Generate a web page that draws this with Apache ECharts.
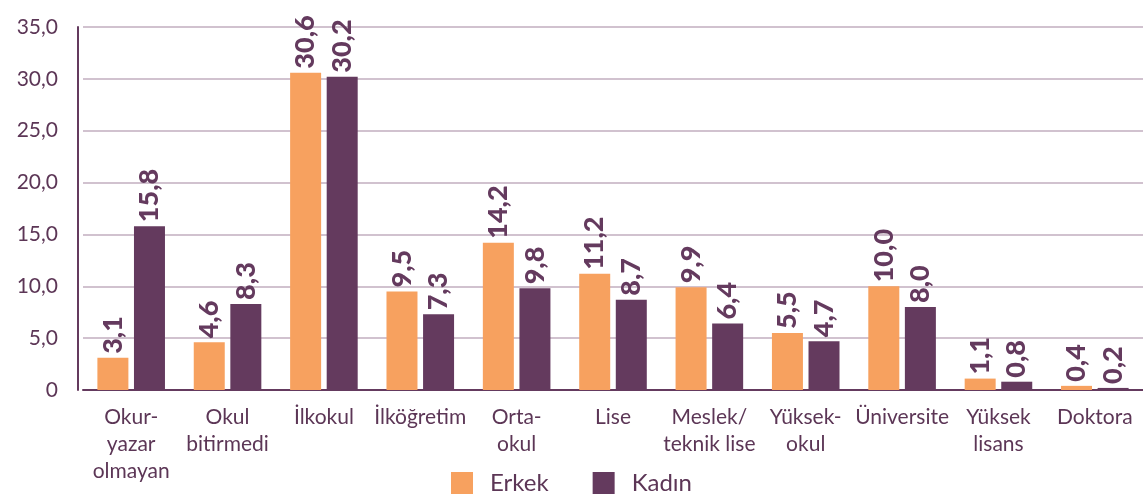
<!DOCTYPE html>
<html>
<head>
<meta charset="utf-8">
<script src="https://cdn.jsdelivr.net/npm/echarts@6/dist/echarts.min.js"></script>
<style>
  html, body { margin: 0; padding: 0; background: #fff; }
  #chart { width: 1143px; height: 503px; }
</style>
</head>
<body>
<div id="chart"></div>
<script>
var categories = [
  'Okur-\nyazar\nolmayan', 'Okul\nbitirmedi', 'İlkokul', 'İlköğretim', 'Orta-\nokul',
  'Lise', 'Meslek/\nteknik lise', 'Yüksek-\nokul', 'Üniversite', 'Yüksek\nlisans', 'Doktora'
];
var erkek = [3.1, 4.6, 30.6, 9.5, 14.2, 11.2, 9.9, 5.5, 10.0, 1.1, 0.4];
var kadin = [15.8, 8.3, 30.2, 7.3, 9.8, 8.7, 6.4, 4.7, 8.0, 0.8, 0.2];
var seriesNames = ['Erkek', 'Kadın'];

var textColor = '#5c3656';
var font = 'Lato';

var chart = echarts.init(document.getElementById('chart'));

function fmt(v) {
  return v.toFixed(1).replace('.', ',');
}

var labelOpt = {
  show: true,
  position: 'top',
  rotate: 90,
  align: 'left',
  verticalAlign: 'middle',
  distance: 4,
  color: '#643a5e',
  fontFamily: font,
  fontWeight: 900,
  fontSize: 27,
  formatter: function (p) { return fmt(p.value); }
};

var option = {
  backgroundColor: '#fff',
  animation: false,
  grid: {
    left: 83,
    right: 0,
    top: 27,
    bottom: 113
  },
  legend: {
    bottom: 3,
    left: 'center',
    itemWidth: 22,
    itemHeight: 22,
    itemGap: 44,
    icon: 'rect',
    textStyle: { color: textColor, fontFamily: font, fontSize: 24, padding: [0, 0, 0, 12] },
    data: seriesNames
  },
  xAxis: {
    type: 'category',
    data: categories,
    axisLine: { show: true, lineStyle: { color: '#643a5e', width: 2 } },
    axisTick: { show: false },
    axisLabel: {
      interval: 0,
      margin: 14,
      color: textColor,
      fontFamily: font,
      fontSize: 21,
      lineHeight: 27
    }
  },
  yAxis: {
    type: 'value',
    min: 0,
    max: 35,
    interval: 5,
    offset: 5,
    axisLine: { show: true, lineStyle: { color: '#643a5e', width: 2 } },
    axisTick: { show: false },
    splitLine: { show: true, lineStyle: { color: '#c2aebf', width: 1.5 } },
    axisLabel: {
      margin: 20,
      color: textColor,
      fontFamily: font,
      fontSize: 21,
      formatter: function (v) { return v === 0 ? '0' : fmt(v); }
    }
  },
  series: [
    {
      name: seriesNames[0],
      type: 'bar',
      data: erkek,
      barWidth: 31,
      barGap: '18%',
      itemStyle: { color: '#f7a15f' },
      label: labelOpt
    },
    {
      name: seriesNames[1],
      type: 'bar',
      data: kadin,
      barWidth: 31,
      itemStyle: { color: '#643a5e' },
      label: labelOpt
    }
  ]
};

option && chart.setOption(option);
</script>
</body>
</html>
